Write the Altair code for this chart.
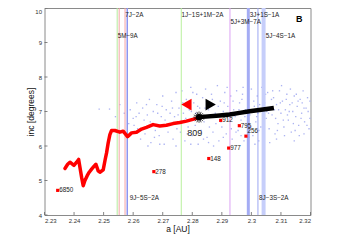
import altair as alt
import pandas as pd

FONT = "Liberation Sans"

# ---- data ----
red_a = [2.23692, 2.23784, 2.23861, 2.23996, 2.24087, 2.24155, 2.24256, 2.2431, 2.24368,
         2.24445, 2.24513, 2.24594, 2.24672, 2.24739, 2.24817, 2.24874, 2.24986, 2.25053,
         2.2510, 2.25155, 2.25212, 2.25269, 2.25382, 2.2555, 2.25661, 2.2581, 2.25945,
         2.26114, 2.26283, 2.26451, 2.26674, 2.2690, 2.27125, 2.2735, 2.27576, 2.27802,
         2.2814, 2.28228]
red_inc = [5.35, 5.47, 5.53, 5.44, 5.53, 5.61, 5.09, 4.85, 5.00,
           5.14, 5.24, 5.33, 5.41, 5.47, 5.28, 5.24, 5.31, 5.61,
           5.80, 6.09, 6.33, 6.45, 6.45, 6.40, 6.43, 6.27, 6.38,
           6.40, 6.49, 6.54, 6.62, 6.58, 6.60, 6.65, 6.68, 6.72,
           6.80, 6.84]

black_a = [2.28228, 2.28927, 2.29265, 2.29602, 2.29940, 2.30389, 2.30761]
black_inc = [6.837, 6.886, 6.914, 6.960, 7.009, 7.057, 7.103]

obj_a = [2.28228]
obj_inc = [6.837]
obj_label = ["809"]
obj_label_a = [2.28083]
obj_label_inc = [6.39]

arrow_a = [2.27802, 2.28623]
arrow_inc = [7.20, 7.20]
arrow_shape = ["triangle-left", "triangle-right"]
arrow_color = ["#ff0000", "#000000"]

ast_a = [2.23446, 2.2670, 2.28558, 2.29231, 2.29592, 2.28961]
ast_inc = [4.714, 5.257, 5.637, 5.94, 6.589, 6.743]
ast_label = ["6850", "278", "148", "977", "795", "912"]
ast256_a = [2.29815]
ast256_inc = [6.286]
ast256_label = ["256"]

res_a = [2.25459, 2.25526, 2.25725, 2.25800, 2.27627, 2.29275, 2.29896, 2.30222, 2.30413]
res_color = ["#b4ec9c", "#f4a4a4", "#f4a4a4", "#8c96f0", "#b8f09c", "#dca4f4",
             "#a4acf4", "#9ca6f2", "#c6cefa"]
res_width = [1, 1, 1, 1.5, 1, 1, 3, 1, 4]

res_label = ["7J\u22122A", "5M\u22129A", "1J\u22121S+1M\u22122A", "5J+3M\u22127A",
             "3J+1S\u22121A", "5J\u22124S\u22121A", "9J\u22125S\u22122A", "8J\u22123S\u22122A"]
res_label_a = [2.25719, 2.25459, 2.27620, 2.29275, 2.29930, 2.30470, 2.25864, 2.30244]
res_label_inc = [9.79, 9.18, 9.79, 9.60, 9.79, 9.18, 4.49, 4.49]

panel_label = ["B"]
panel_a = [2.3162]
panel_inc = [9.69]

cloud_a = [2.2485, 2.2520, 2.2555, 2.2570, 2.2540,
           2.2590, 2.2600, 2.2612, 2.2620, 2.2625, 2.2632, 2.2640, 2.2648, 2.2655, 2.2660,
           2.2668, 2.2675, 2.2680, 2.2688, 2.2695, 2.2700, 2.2705, 2.2712, 2.2718, 2.2725,
           2.2730, 2.2735, 2.2740, 2.2745, 2.2748, 2.2603, 2.2637, 2.2672, 2.2698, 2.2722,
           2.2755, 2.2760, 2.2765, 2.2770, 2.2775, 2.2780, 2.2786, 2.2790, 2.2795, 2.2800,
           2.2805, 2.2810, 2.2815, 2.2820, 2.2825, 2.2830, 2.2835, 2.2840, 2.2845, 2.2850,
           2.2855, 2.2860, 2.2865, 2.2870, 2.2875, 2.2880, 2.2885, 2.2890, 2.2895, 2.2900,
           2.2905, 2.2910, 2.2915, 2.2920, 2.2925, 2.2930, 2.2935, 2.2940, 2.2945, 2.2950,
           2.2778, 2.2812, 2.2848, 2.2872, 2.2902, 2.2932, 2.2802, 2.2838, 2.2868, 2.2918,
           2.2955, 2.2960, 2.2965, 2.2970, 2.2975, 2.2980, 2.2985, 2.2990, 2.2995, 2.3000,
           2.3005, 2.3010, 2.3015, 2.3020, 2.3025, 2.3030, 2.3035, 2.3040, 2.3045, 2.3050,
           2.3055, 2.3060, 2.3065, 2.3070, 2.3075, 2.3080, 2.3085, 2.3090, 2.3095, 2.3100,
           2.3105, 2.3110, 2.3115, 2.3120, 2.3125, 2.3130, 2.3135, 2.3140, 2.3145, 2.3150,
           2.3155, 2.3160, 2.3165, 2.3170, 2.3175, 2.3180, 2.3185, 2.3190, 2.3195, 2.2962,
           2.2992, 2.3022, 2.3052, 2.3082, 2.3112, 2.3142, 2.3172, 2.3102, 2.3062, 2.3032,
           2.2972, 2.3132, 2.3162, 2.3192, 2.3012, 2.3092, 2.3122, 2.3042, 2.3072, 2.3152,
           2.2585, 2.2615, 2.2645, 2.2658, 2.2683, 2.2708, 2.2733, 2.2752, 2.2768, 2.2783,
           2.2797, 2.2818, 2.2827, 2.2843, 2.2858, 2.2878, 2.2888, 2.2897, 2.2908, 2.2922,
           2.2938, 2.2948, 2.2958, 2.2968, 2.2978, 2.2988, 2.2998, 2.3008, 2.3018, 2.3028,
           2.3038, 2.3048, 2.3058, 2.3068, 2.3078, 2.3088, 2.3098, 2.3108, 2.3118, 2.3128,
           2.3138, 2.3148, 2.3158, 2.3168, 2.3178, 2.3188, 2.3198, 2.3178, 2.3198, 2.3145,
           2.3085, 2.3025, 2.2965, 2.2905, 2.2855, 2.2795, 2.2745, 2.2690, 2.2650, 2.2610]
cloud_inc = [7.07, 7.07, 7.20, 6.95, 6.85,
             7.05, 6.80, 7.25, 6.95, 6.20, 7.10, 6.35, 6.90, 7.35, 6.10,
             7.00, 6.45, 7.20, 6.30, 6.85, 7.45, 6.05, 7.05, 6.40, 6.95,
             7.30, 6.20, 6.85, 7.55, 6.50, 6.60, 6.75, 6.25, 7.15, 6.60,
             7.10, 6.40, 7.60, 6.95, 6.15, 7.35, 6.55, 7.05, 7.70, 6.30,
             7.25, 6.60, 7.50, 6.05, 7.10, 6.45, 7.40, 6.70, 7.65, 6.25,
             7.05, 6.90, 7.50, 6.40, 7.20, 6.65, 7.75, 6.15, 7.30, 6.55,
             7.00, 7.55, 6.35, 7.15, 6.75, 7.45, 6.20, 7.05, 6.85, 7.60,
             6.80, 6.95, 7.30, 6.00, 6.90, 6.50, 7.55, 6.20, 7.35, 7.70,
             6.45, 7.25, 6.75, 7.50, 6.15, 7.05, 6.60, 7.35, 6.90, 7.65,
             6.30, 7.15, 6.70, 7.45, 6.45, 7.00, 7.70, 6.20, 7.25, 6.80,
             7.55, 6.50, 7.10, 6.90, 7.40, 6.35, 7.20, 6.65, 7.60, 6.95,
             7.30, 6.55, 7.05, 7.50, 6.75, 7.20, 6.40, 7.00, 7.45, 6.85,
             7.15, 6.60, 7.35, 6.95, 7.60, 6.70, 7.10, 7.40, 6.50, 6.95,
             6.25, 6.95, 7.00, 6.80, 6.30, 6.65, 7.25, 7.75, 6.10, 6.55,
             7.70, 7.65, 6.30, 7.00, 6.05, 7.05, 6.90, 7.40, 7.60, 7.50,
             6.65, 6.50, 7.20, 6.70, 6.95, 6.75, 7.10, 6.90, 7.25, 6.35,
             7.00, 7.15, 6.75, 7.10, 6.55, 6.95, 7.15, 6.70, 7.25, 6.95,
             7.30, 6.40, 7.05, 7.35, 6.85, 7.20, 6.55, 7.30, 6.85, 7.20,
             6.90, 7.50, 6.95, 7.35, 7.05, 6.45, 7.25, 6.75, 7.35, 7.00,
             7.25, 6.45, 7.30, 6.80, 7.10, 6.60, 7.30, 6.35, 6.80, 6.15,
             6.20, 6.15, 6.30, 6.25, 6.10, 6.05, 6.00, 6.05, 6.00, 6.85]

x_ticks = [2.23, 2.24, 2.25, 2.26, 2.27, 2.28, 2.29, 2.30, 2.31, 2.32]
y_ticks = [4, 5, 6, 7, 8, 9, 10]

W, H = 266, 207

xs = alt.Scale(domain=[2.23, 2.32], nice=False, zero=False)
ys = alt.Scale(domain=[4, 10], nice=False, zero=False)
xaxis = alt.Axis(values=x_ticks, format="~g", title="a [AU]", labelPadding=2,
                 titlePadding=1, ticks=False, domain=False, grid=False)
yaxis = alt.Axis(values=y_ticks, format="d", title="inc [degrees]", labelPadding=3,
                 ticks=False, domain=False, grid=False,
                 labelOffset={"expr": "datum.value == 10 ? 3 : 0"},
                 titleX=-14.5, titleY=H / 2, titleBaseline="middle", titleAlign="center")


def X(f):
    return alt.X(f, type="quantitative", scale=xs, axis=xaxis)


def Y(f):
    return alt.Y(f, type="quantitative", scale=ys, axis=yaxis)


cloud = alt.Chart(pd.DataFrame({"a": cloud_a, "inc": cloud_inc})).mark_square(
    size=1.8, color="#9ea6f0", opacity=0.85).encode(x=X("a"), y=Y("inc"))

res_df = pd.DataFrame({"a": res_a, "c": res_color, "w": res_width})
res = alt.Chart(res_df).mark_rule().encode(
    x=X("a"),
    color=alt.Color("c:N", scale=None),
    strokeWidth=alt.StrokeWidth("w:Q", scale=None),
)

res_txt = alt.Chart(pd.DataFrame({"a": res_label_a, "inc": res_label_inc, "t": res_label})).mark_text(
    align="left", baseline="middle", font=FONT, fontSize=6.3, color="#222", dx=0.5).encode(
    x=X("a"), y=Y("inc"), text="t:N")

panel = alt.Chart(pd.DataFrame({"a": panel_a, "inc": panel_inc, "t": panel_label})).mark_text(
    align="center", baseline="middle", font=FONT, fontSize=9, fontWeight="bold", color="#000").encode(
    x=X("a"), y=Y("inc"), text="t:N")

red_df = pd.DataFrame({"a": red_a, "inc": red_inc, "o": list(range(len(red_a)))})
red = alt.Chart(red_df).mark_line(color="#ff0000", strokeWidth=3.5, strokeJoin="round",
                                  strokeCap="round").encode(x=X("a"), y=Y("inc"), order="o:Q")

black_df = pd.DataFrame({"a": black_a, "inc": black_inc, "o": list(range(len(black_a)))})
black = alt.Chart(black_df).mark_line(color="#000000", strokeWidth=4.5, strokeJoin="round").encode(
    x=X("a"), y=Y("inc"), order="o:Q")

obj_df = pd.DataFrame({"a": obj_a, "inc": obj_inc})
star_path = ("M-1,0L1,0M0,-1L0,1M-0.7,-0.7L0.7,0.7M-0.7,0.7L0.7,-0.7"
             "M-0.38,-0.92L0.38,0.92M0.38,-0.92L-0.38,0.92"
             "M-0.92,-0.38L0.92,0.38M-0.92,0.38L0.92,-0.38")
star = alt.Chart(obj_df).mark_point(shape=star_path, size=130, stroke="#000", strokeWidth=0.7,
                                    filled=False, opacity=1).encode(x=X("a"), y=Y("inc"))
dot = alt.Chart(obj_df).mark_circle(size=40, color="#000", opacity=1).encode(x=X("a"), y=Y("inc"))
obj_txt = alt.Chart(pd.DataFrame({"a": obj_label_a, "inc": obj_label_inc, "t": obj_label})).mark_text(
    align="center", baseline="middle", font=FONT, fontSize=9, color="#222").encode(
    x=X("a"), y=Y("inc"), text="t:N")

arr_df = pd.DataFrame({"a": arrow_a, "inc": arrow_inc, "s": arrow_shape, "c": arrow_color})
arrows = alt.Chart(arr_df).mark_point(filled=True, size=140, opacity=1).encode(
    x=X("a"), y=Y("inc"),
    shape=alt.Shape("s:N", scale=None),
    color=alt.Color("c:N", scale=None),
)

ast_df = pd.DataFrame({"a": ast_a, "inc": ast_inc, "t": ast_label})
ast = alt.Chart(ast_df).mark_square(size=10, color="#ff0000", opacity=1).encode(x=X("a"), y=Y("inc"))
ast_txt = alt.Chart(ast_df).mark_text(align="left", baseline="middle", font=FONT, fontSize=6.3,
                                      color="#222", dx=1.5).encode(x=X("a"), y=Y("inc"), text="t:N")
ast2_df = pd.DataFrame({"a": ast256_a, "inc": ast256_inc, "t": ast256_label})
ast2 = alt.Chart(ast2_df).mark_square(size=10, color="#ff0000", opacity=1).encode(x=X("a"), y=Y("inc"))
ast2_txt = alt.Chart(ast2_df).mark_text(align="left", baseline="middle", font=FONT, fontSize=6.3,
                                        color="#222", dx=1.5, dy=-5).encode(x=X("a"), y=Y("inc"), text="t:N")

xt = alt.Chart(pd.DataFrame({"a": x_ticks})).mark_rule(color="#666", strokeWidth=0.8).encode(
    x=X("a"), y=alt.value(H), y2=alt.value(H - 3))
yt = alt.Chart(pd.DataFrame({"inc": y_ticks})).mark_rule(color="#666", strokeWidth=0.8).encode(
    y=Y("inc"), x=alt.value(0), x2=alt.value(3))

chart = alt.layer(
    cloud, res, red, black, dot, star, arrows, ast, ast2, ast_txt, ast2_txt, obj_txt,
    res_txt, panel, xt, yt
).properties(
    width=W, height=H,
    autosize=alt.AutoSizeParams(type="none"),
    padding={"left": 36.5, "top": 0, "right": 27, "bottom": 21},
).configure_view(
    stroke="#8a8a8a", strokeWidth=1
).configure_axis(
    labelFont=FONT, titleFont=FONT, labelFontSize=6, titleFontSize=8.5,
    labelColor="#333", titleColor="#111", titleFontWeight="normal"
)

chart.save("out.html", embed_options={"renderer": "svg", "actions": False})
